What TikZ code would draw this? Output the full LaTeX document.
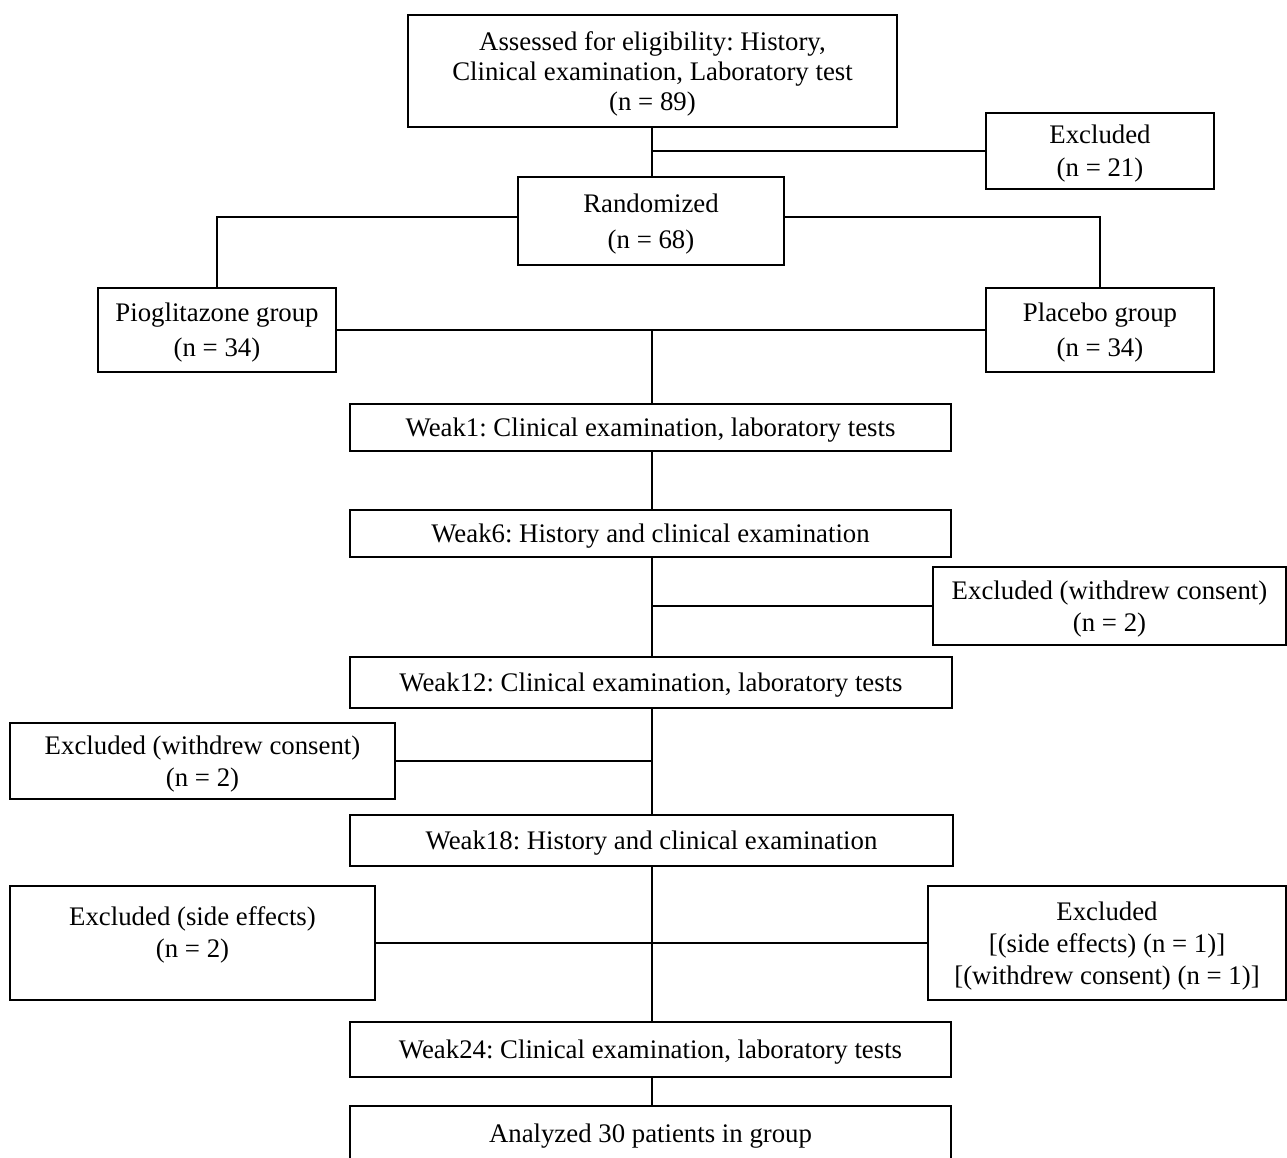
\documentclass[tikz,border=0pt]{standalone}
\usepackage{fontspec}
\setmainfont{Liberation Serif}
\frenchspacing
\begin{document}
\begin{tikzpicture}[x=1pt,y=-1pt,
  box/.style={draw, line width=1.7pt, align=center, inner sep=0pt, text depth=0pt,
              font=\fontsize{26.8}{30}\selectfont},
  conn/.style={line width=1.8pt},
  thin conn/.style={line width=1.2pt}]
\useasboundingbox (0,0) rectangle (1287,1158);
\coordinate (sp) at (652,0);
% nodes
\node[box, minimum width=489pt, minimum height=112pt] (top) at (652.5,71)
  {Assessed for eligibility: History,\\Clinical examination, Laboratory test\\(n = 89)};
\node[box, minimum width=228pt, minimum height=76pt] (exc1) at (1100,151)
  {Excluded\\[3pt](n = 21)};
\node[box, minimum width=266pt, minimum height=88pt] (rand) at (651,221)
  {Randomized\\[6pt](n = 68)};
\node[box, minimum width=238pt, minimum height=84pt] (pio) at (217,330)
  {Pioglitazone group\\[5pt](n = 34)};
\node[box, minimum width=228pt, minimum height=84pt] (pla) at (1100,330)
  {Placebo group\\[5pt](n = 34)};
\node[box, minimum width=601pt, minimum height=47pt] (w1) at (650.5,427.5)
  {Weak1: Clinical examination, laboratory tests};
\node[box, minimum width=601pt, minimum height=47pt] (w6) at (650.5,533.5)
  {Weak6: History and clinical examination};
\node[box, minimum width=353pt, minimum height=78pt] (exc2) at (1109.5,606)
  {Excluded (withdrew consent)\\[2pt](n = 2)};
\node[box, minimum width=602pt, minimum height=51pt] (w12) at (651,682.5)
  {Weak12: Clinical examination, laboratory tests};
\node[box, minimum width=385pt, minimum height=76pt] (exc3) at (202.5,761)
  {Excluded (withdrew consent)\\[2pt](n = 2)};
\node[box, minimum width=603pt, minimum height=51pt] (w18) at (651.5,840.5)
  {Weak18: History and clinical examination};
\node[box, minimum width=365pt, minimum height=114pt,
  label={[font=\fontsize{26.8}{30}\selectfont, align=center, yshift=8pt]center:Excluded (side effects)\\[2pt](n = 2)}]
  (exc4) at (192.5,943) {};
\node[box, minimum width=358pt, minimum height=114pt] (exc5) at (1107,943)
  {Excluded\\[2pt][(side effects) (n = 1)]\\[2pt][(withdrew consent) (n = 1)]};
\node[box, minimum width=601pt, minimum height=55pt] (w24) at (650.5,1049.5)
  {Weak24: Clinical examination, laboratory tests};
\node[box, minimum width=601pt, minimum height=59pt] (ana) at (650.5,1135.5)
  {\raisebox{4pt}{Analyzed 30 patients in group}};
% connectors
\draw[conn] (sp |- top.south) -- (sp |- rand.north);
\draw[conn] (sp |- exc1.west) -- (exc1.west);
\draw[conn] (rand.west |- 0,217) -| (pio.north);
\draw[conn] (rand.east |- 0,217) -| (pla.north);
\draw[conn] (pio.east) -- (pio.east -| pla.west);
\draw[conn] (sp |- pio.east) -- (sp |- w1.north);
\draw[conn] (sp |- w1.south) -- (sp |- w6.north);
\draw[conn] (sp |- w6.south) -- (sp |- w12.north);
\draw[conn] (sp |- exc2.west) -- (exc2.west);
\draw[conn] (sp |- w12.south) -- (sp |- w18.north);
\draw[conn] (exc3.east) -- (sp |- exc3.east);
\draw[thin conn] (sp |- w18.south) -- (sp |- w24.north);
\draw[conn] (exc4.east) -- (exc4.east -| exc5.west);
\draw[thin conn] (sp |- w24.south) -- (sp |- ana.north);
\end{tikzpicture}
\end{document}
